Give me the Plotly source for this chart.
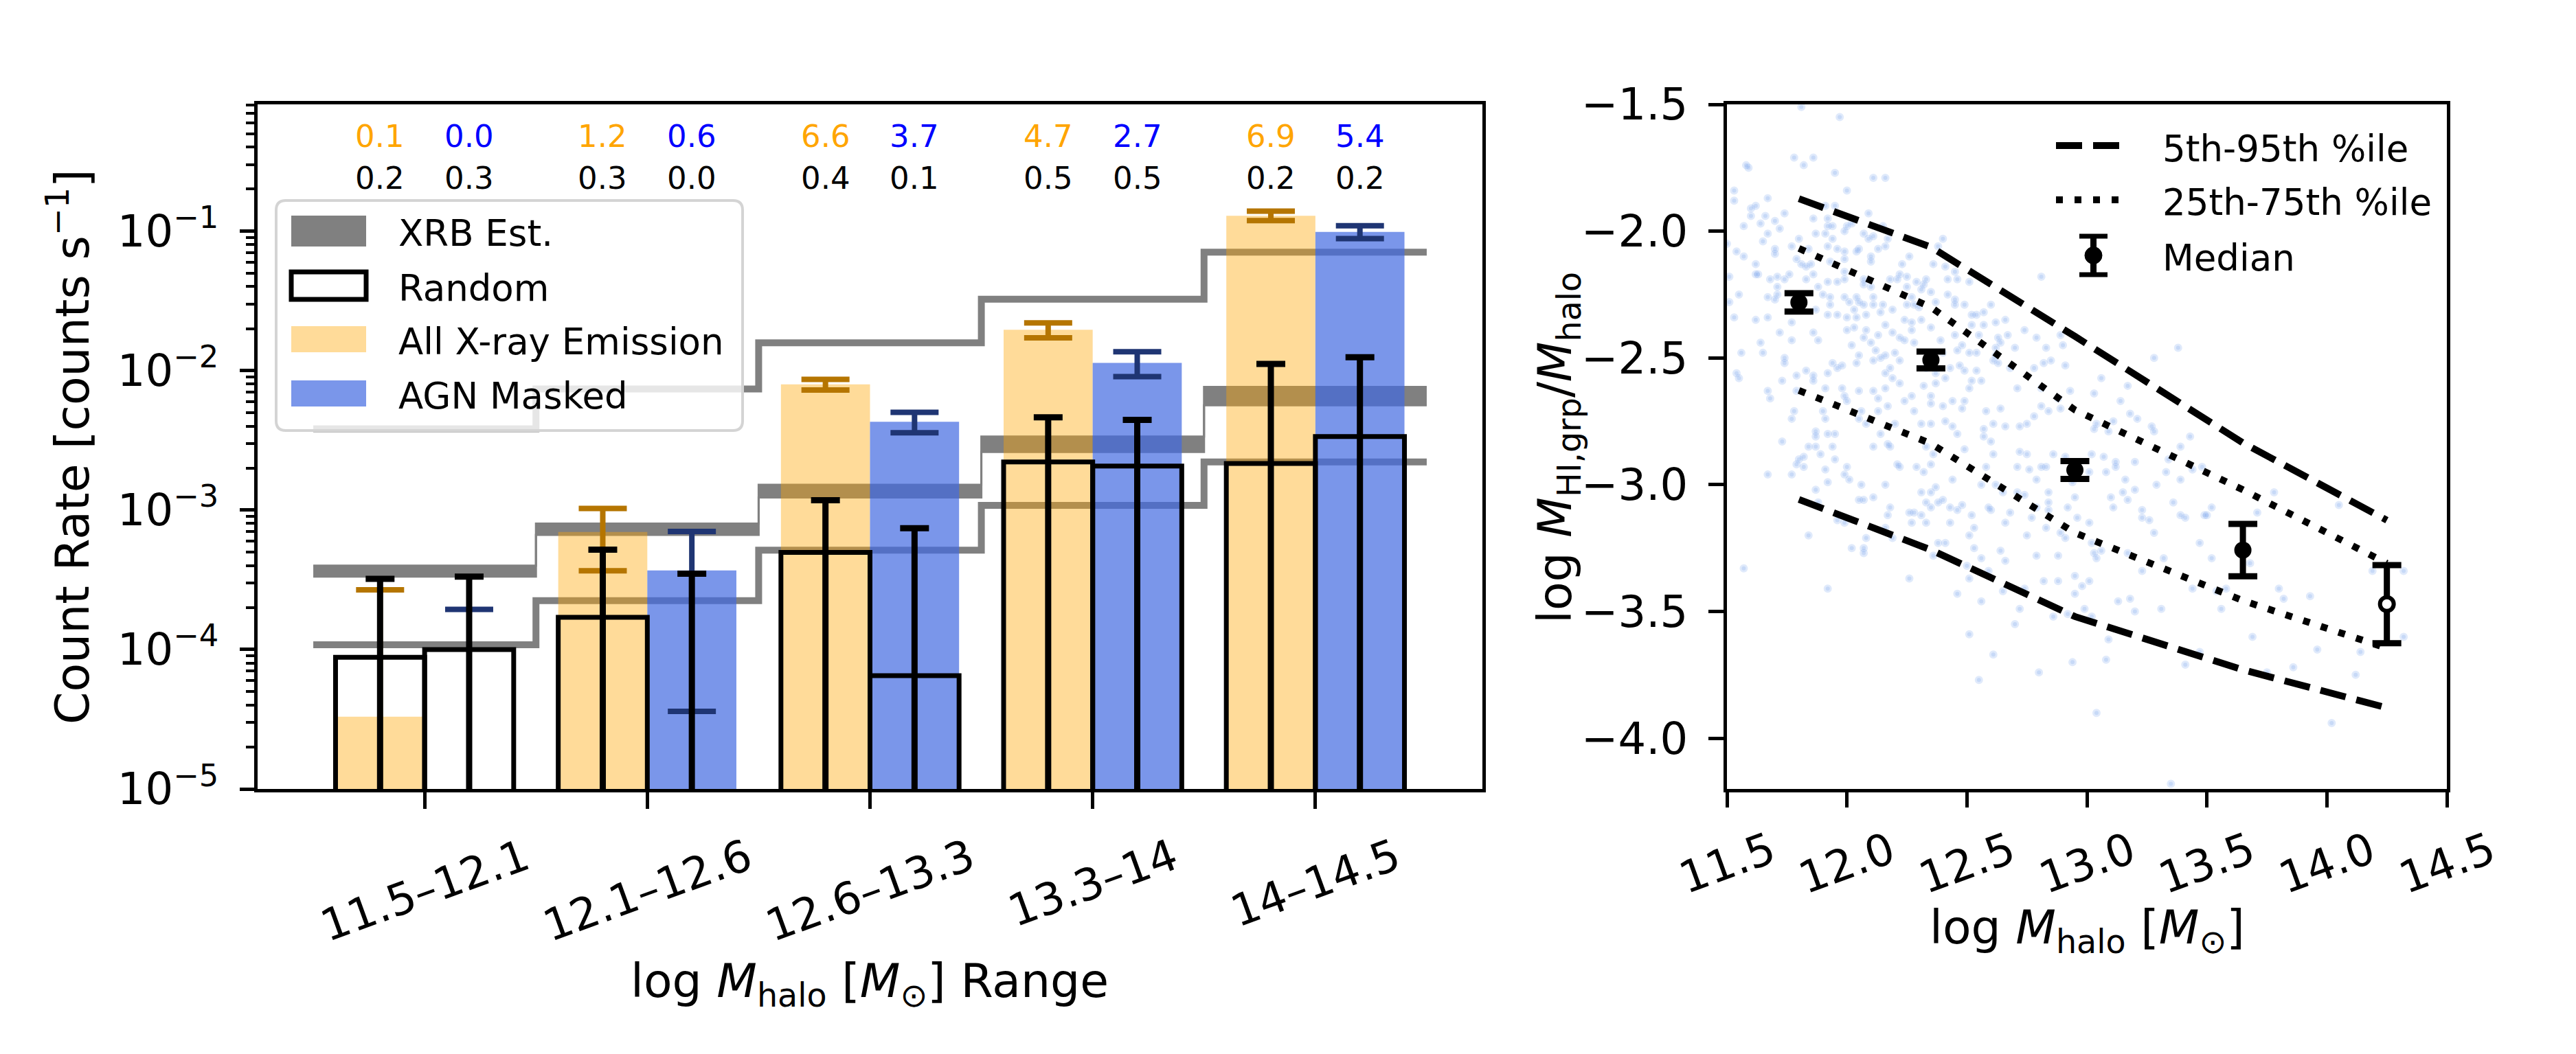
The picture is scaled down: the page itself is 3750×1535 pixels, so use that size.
import numpy as np
import plotly.graph_objects as go

# ---------------- left panel: stacked X-ray count rates ----------------
mass_bins = ["11.5–12.1", "12.1–12.6", "12.6–13.3", "13.3–14", "14–14.5"]

all_rate = [3.3e-5, 6.97e-4, 7.96e-3, 1.96e-2, 1.29e-1]
all_err = [2.35e-4, 3.3e-4, 7.0e-4, 2.4e-3, 1.0e-2]
agn_rate = [5e-6, 3.69e-4, 4.30e-3, 1.135e-2, 9.88e-2]
agn_err = [1.89e-4, 3.33e-4, 7.2e-4, 2.3e-3, 1.05e-2]

rand_all = [8.8e-5, 1.7e-4, 4.97e-4, 2.21e-3, 2.16e-3]
rand_all_err = [2.33e-4, 3.5e-4, 6.8e-4, 2.42e-3, 9.0e-3]
rand_agn = [1.0e-4, 5e-6, 6.5e-5, 2.07e-3, 3.37e-3]
rand_agn_err = [2.33e-4, 3.45e-4, 6.75e-4, 2.36e-3, 9.1e-3]

# XRB estimate band and its full range
xrb_lo = [3.33e-4, 6.64e-4, 1.23e-3, 2.61e-3, 5.64e-3]
xrb_hi = [3.99e-4, 8.0e-4, 1.52e-3, 3.37e-3, 7.64e-3]
xrb_min = [1.08e-4, 2.24e-4, 5.15e-4, 1.08e-3, 2.21e-3]
xrb_max = [3.82e-3, 7.38e-3, 1.58e-2, 3.25e-2, 7.07e-2]

# numbers printed above the bars
sig_all = [0.1, 1.2, 6.6, 4.7, 6.9]
sig_agn = [0.0, 0.6, 3.7, 2.7, 5.4]
sig_rand_all = [0.2, 0.3, 0.4, 0.5, 0.2]
sig_rand_agn = [0.3, 0.0, 0.1, 0.5, 0.2]
sig_rows = [0.48, 0.24]

# ---------------- right panel: HI fraction vs halo mass ----------------
bin_mass = [11.80, 12.35, 12.95, 13.65, 14.25]
p05 = [-3.058, -3.257, -3.52, -3.73, -3.88]
p25 = [-2.628, -2.838, -3.19, -3.457, -3.645]
p75 = [-2.068, -2.30, -2.705, -3.02, -3.31]
p95 = [-1.872, -2.063, -2.415, -2.835, -3.14]
med = [-2.281, -2.508, -2.942, -3.258, -3.471]
med_err = [0.036, 0.033, 0.035, 0.103, 0.154]
med_open = [False, False, False, False, True]
mhalo_ticks = [11.5, 12.0, 12.5, 13.0, 13.5, 14.0, 14.5]
ratio_ticks = [-4.0, -3.5, -3.0, -2.5, -2.0, -1.5]

# individual groups (log Mhalo, log MHI/Mhalo)
groups = [
    (11.81, -1.51), (11.97, -1.55), (11.58, -1.74), (11.59, -1.75), (11.78, -1.71),
    (11.86, -1.71), (11.82, -1.74), (11.95, -1.77), (12.11, -1.79), (12.16, -1.79),
    (11.53, -1.84), (11.53, -1.88), (11.67, -1.87), (12.00, -1.84), (11.60, -1.91),
    (11.62, -1.90), (11.60, -1.94), (11.74, -1.93), (11.66, -1.94), (11.64, -1.97),
    (11.57, -1.98), (11.70, -1.96), (11.72, -1.99), (11.67, -2.01), (11.86, -1.95),
    (11.91, -1.90), (11.95, -1.90), (11.92, -1.95), (11.92, -1.98), (11.94, -1.98),
    (11.87, -2.01), (11.91, -2.01), (11.99, -2.00), (12.00, -1.98), (12.02, -1.97),
    (12.09, -1.93), (12.15, -1.98), (12.07, -2.01), (12.09, -2.03), (12.11, -2.02),
    (12.17, -2.03), (11.94, -2.03), (11.92, -2.06), (11.96, -2.07), (11.99, -2.08),
    (11.99, -2.11), (11.80, -2.03), (11.77, -2.06), (11.84, -2.07), (11.65, -2.04),
    (11.70, -2.07), (11.70, -2.09), (11.50, -2.05), (11.54, -2.08), (11.57, -2.10),
    (11.62, -2.13), (11.62, -2.17), (11.63, -2.17), (11.51, -2.18), (11.68, -2.19),
    (11.71, -2.18), (11.74, -2.19), (11.76, -2.17), (11.79, -2.11), (11.81, -2.13),
    (11.83, -2.14), (11.85, -2.13), (11.86, -2.17), (11.83, -2.19), (11.88, -2.22),
    (11.90, -2.25), (11.93, -2.26), (11.93, -2.12), (11.92, -2.20), (11.96, -2.20),
    (11.99, -2.19), (11.99, -2.16), (12.04, -2.08), (12.05, -2.07), (12.10, -2.10),
    (12.10, -2.12), (12.13, -2.07), (12.16, -2.06), (12.26, -2.10), (12.23, -2.13),
    (12.22, -2.17), (12.25, -2.18), (12.18, -2.19), (12.21, -2.19), (12.07, -2.19),
    (12.07, -2.21), (12.10, -2.22), (12.29, -2.20), (12.32, -2.21), (12.33, -2.19),
    (12.31, -2.23), (12.35, -2.24), (12.25, -2.22), (12.27, -2.26), (12.25, -2.29),
    (12.28, -2.29), (12.30, -2.30), (12.36, -2.13), (12.41, -2.14), (12.45, -2.16),
    (12.46, -2.19), (12.42, -2.19), (12.40, -2.03), (12.38, -2.06), (12.51, -2.20),
    (12.81, -2.18), (12.42, -2.25), (12.45, -2.27), (12.45, -2.29), (12.37, -2.28),
    (12.49, -2.29), (12.60, -2.29), (12.54, -2.33), (12.52, -2.33), (12.57, -2.32),
    (12.57, -2.37), (12.52, -2.37), (12.62, -2.36), (12.66, -2.35), (12.45, -2.41),
    (12.46, -2.47), (12.48, -2.45), (12.51, -2.48), (12.54, -2.48), (12.55, -2.41),
    (12.63, -2.42), (12.64, -2.44), (12.67, -2.41), (12.70, -2.46), (12.74, -2.39),
    (12.79, -2.42), (12.83, -2.46), (12.89, -2.41), (12.90, -2.45), (12.62, -2.46),
    (12.62, -2.49), (12.61, -2.51), (12.63, -2.52), (12.68, -2.54), (12.71, -2.62),
    (12.78, -2.54), (12.82, -2.52), (12.85, -2.51), (12.91, -2.53), (12.93, -2.63),
    (12.81, -2.62), (12.88, -2.66), (12.89, -2.70), (12.81, -2.69), (12.84, -2.71),
    (12.78, -2.73), (12.75, -2.76), (12.72, -2.77), (12.66, -2.77), (12.61, -2.76),
    (12.64, -2.70), (12.58, -2.71), (12.57, -2.78), (12.57, -2.81), (12.60, -2.83),
    (12.51, -2.62), (12.49, -2.67), (12.48, -2.70), (12.52, -2.59), (12.56, -2.59),
    (12.54, -2.55), (12.49, -2.55), (12.47, -2.53), (12.43, -2.54), (12.41, -2.58),
    (12.40, -2.48), (12.44, -2.67), (12.40, -2.69), (12.35, -2.68), (12.35, -2.65),
    (12.32, -2.61), (12.37, -2.60), (12.37, -2.56), (12.33, -2.54), (12.41, -2.75),
    (12.44, -2.77), (12.46, -2.80), (12.35, -2.76), (12.31, -2.76), (12.28, -2.71),
    (12.27, -2.65), (12.24, -2.67), (12.22, -2.60), (12.22, -2.51), (12.20, -2.48),
    (12.18, -2.54), (12.19, -2.58), (12.16, -2.62), (12.16, -2.56), (12.14, -2.50),
    (12.11, -2.51), (12.12, -2.47), (12.10, -2.44), (12.16, -2.49), (12.05, -2.49),
    (12.02, -2.45), (12.04, -2.52), (11.94, -2.52), (11.96, -2.54), (11.98, -2.53),
    (11.92, -2.56), (11.86, -2.57), (11.86, -2.59), (11.83, -2.55), (11.79, -2.57),
    (11.73, -2.59), (11.74, -2.50), (11.74, -2.52), (11.54, -2.56), (11.55, -2.58),
    (11.56, -2.48), (11.65, -2.48), (11.64, -2.44), (11.67, -2.34), (11.53, -2.34),
    (11.62, -2.35), (11.77, -2.36), (11.72, -2.40), (11.77, -2.43), (11.86, -2.40),
    (11.88, -2.43), (12.00, -2.39), (12.03, -2.38), (12.07, -2.42), (12.08, -2.39),
    (12.13, -2.41), (12.16, -2.37), (12.19, -2.40), (12.22, -2.42), (12.24, -2.43),
    (12.28, -2.44), (12.27, -2.39), (12.27, -2.36), (12.24, -2.35), (12.31, -2.35),
    (12.35, -2.38), (12.39, -2.43), (11.93, -2.29), (11.99, -2.26), (12.01, -2.28),
    (12.04, -2.26), (12.03, -2.31), (12.07, -2.29), (12.11, -2.26), (12.11, -2.29),
    (12.14, -2.32), (12.15, -2.29), (12.19, -2.31), (12.08, -2.33), (12.04, -2.34),
    (12.00, -2.34), (11.96, -2.33), (11.92, -2.33), (11.87, -2.31), (12.05, -2.28),
    (11.98, -2.62), (11.99, -2.65), (12.00, -2.67), (11.91, -2.62), (11.90, -2.71),
    (11.91, -2.74), (12.05, -2.63), (12.11, -2.63), (12.13, -2.66), (12.13, -2.71),
    (12.06, -2.71), (12.05, -2.74), (12.08, -2.76), (12.17, -2.69), (12.20, -2.76),
    (12.14, -2.80), (12.17, -2.84), (11.87, -2.79), (11.87, -2.81), (11.92, -2.80),
    (11.95, -2.80), (11.78, -2.71), (11.77, -2.74), (11.67, -2.63), (11.68, -2.66),
    (11.73, -2.83), (11.79, -2.63), (11.51, -2.28), (11.55, -2.25), (11.67, -2.26),
    (11.70, -2.27), (11.71, -2.22), (11.71, -2.25),
    (11.67, -2.96), (11.77, -2.96), (11.79, -2.92), (11.80, -2.90), (11.82, -2.89),
    (11.82, -2.93), (11.84, -2.85), (11.87, -2.85), (11.89, -2.88), (11.94, -2.85),
    (11.95, -2.90), (11.91, -2.94), (11.92, -2.99), (11.99, -2.96), (12.00, -2.93),
    (12.01, -2.98), (12.06, -3.00), (11.87, -3.02), (11.88, -3.07), (12.05, -3.06),
    (12.07, -3.06), (12.11, -3.05), (12.11, -2.85), (12.18, -2.85), (12.16, -3.00),
    (12.21, -2.92), (12.22, -2.93), (12.29, -2.93), (12.32, -2.95), (12.35, -2.92),
    (12.33, -2.85), (12.36, -2.88), (12.31, -3.03), (12.35, -3.03), (12.37, -3.01),
    (12.33, -3.07), (12.35, -3.09), (12.38, -3.07), (12.40, -3.06), (12.43, -3.09),
    (12.46, -3.10), (12.48, -3.08), (12.18, -3.09), (12.17, -3.12), (12.26, -3.11),
    (12.28, -3.11), (12.31, -3.12), (12.33, -3.15), (12.27, -3.15), (12.43, -3.15),
    (12.44, -2.98), (12.49, -2.86), (12.52, -3.12), (12.53, -3.17), (12.51, -3.20),
    (12.53, -3.25), (12.56, -3.29), (12.59, -3.09), (12.60, -3.10), (12.58, -2.93),
    (12.61, -2.88), (12.56, -3.00), (12.62, -3.00), (12.65, -3.03), (12.68, -3.11),
    (12.66, -3.15), (12.71, -2.93), (12.76, -2.94), (12.79, -2.98), (12.81, -2.93),
    (12.83, -2.93), (12.72, -2.87), (12.75, -2.88), (12.71, -3.03), (12.74, -3.04),
    (12.79, -3.09), (12.84, -3.07), (12.84, -3.10), (12.84, -3.03), (12.77, -3.13),
    (12.83, -3.17), (12.75, -3.20), (12.64, -3.26), (12.66, -3.30), (12.79, -3.28),
    (12.88, -3.28), (12.89, -3.19), (12.91, -3.21), (12.92, -3.09), (12.96, -3.13),
    (12.95, -3.05), (12.86, -2.88), (12.91, -2.89), (12.94, -2.99), (12.50, -3.32),
    (12.59, -3.34), (12.51, -3.37), (12.65, -3.42), (12.74, -3.41), (12.82, -3.38),
    (12.88, -3.38), (12.95, -3.36), (12.98, -3.40), (12.95, -3.43), (12.99, -3.49),
    (12.92, -3.51), (12.86, -3.52), (12.72, -3.49), (12.56, -3.46), (12.46, -3.43),
    (12.70, -3.55), (12.51, -3.59), (12.61, -3.67), (12.94, -3.70), (12.80, -3.74),
    (12.55, -3.77), (12.38, -3.23), (12.41, -3.23), (12.36, -3.28), (12.19, -3.21),
    (12.16, -3.17), (12.08, -3.21), (12.02, -3.25), (12.07, -3.25), (12.07, -3.27),
    (11.96, -3.14), (11.99, -3.15), (11.84, -3.20), (11.57, -3.33), (11.92, -3.41),
    (12.26, -3.37),
    (13.38, -2.46), (13.28, -2.50), (13.06, -2.58), (13.17, -2.61), (13.03, -2.64),
    (13.14, -2.67), (13.18, -2.72), (13.21, -2.74), (13.11, -2.75), (13.04, -2.76),
    (13.03, -2.78), (13.09, -2.79), (13.27, -2.77), (13.28, -2.79), (13.43, -2.81),
    (13.02, -2.88), (13.07, -2.89), (13.12, -2.91), (13.12, -2.93), (13.08, -2.95),
    (13.01, -2.95), (13.20, -2.91), (13.34, -2.90), (13.39, -2.85), (13.33, -2.95),
    (13.39, -2.98), (13.16, -2.98), (13.29, -3.00), (13.15, -3.03), (13.20, -3.02),
    (13.10, -3.05), (13.17, -3.06), (13.11, -3.09), (13.23, -3.10), (13.23, -3.13),
    (13.26, -3.14), (13.36, -3.07), (13.39, -3.12), (13.41, -3.13), (13.49, -3.12),
    (13.50, -3.12), (13.52, -3.09), (13.44, -2.94), (13.48, -2.93), (13.28, -3.19),
    (13.01, -3.15), (13.47, -3.23), (13.52, -3.29), (13.71, -3.11), (13.78, -3.03),
    (14.05, -3.08), (13.02, -3.23), (13.03, -3.27), (13.06, -3.26), (13.04, -3.29),
    (13.17, -3.27), (13.32, -3.29), (13.23, -3.34), (13.01, -3.38), (13.68, -3.31),
    (13.44, -3.41), (13.54, -3.42), (13.58, -3.41), (13.56, -3.49), (13.18, -3.45),
    (13.13, -3.46), (13.20, -3.50), (13.31, -3.49), (13.02, -3.52), (13.80, -3.41),
    (13.82, -3.45), (13.93, -3.44), (14.19, -3.34), (14.32, -3.60), (13.96, -3.65),
    (14.14, -3.66), (13.69, -3.60), (13.09, -3.61), (13.08, -3.69), (13.47, -3.66),
    (13.41, -3.71), (13.75, -3.74), (13.86, -3.72), (13.04, -3.90), (14.02, -3.94),
    (13.35, -4.18), (14.32, -3.34), (14.12, -3.75),
]

# ---------------- geometry helpers (figure pixels -> paper) ----------------
W, H = 3750, 1535
FONT = "DejaVu Sans"


def fx(p):
    return p / W


def fy(p):
    return 1 - p / H


xpos = np.arange(len(mass_bins))
edges = np.arange(len(mass_bins) + 1) - 0.5


def step(v):
    return list(v) + [v[-1]]


fig = go.Figure()

# XRB band and range lines (drawn on the base axes, under the bars)
fig.add_trace(go.Scatter(x=edges, y=step(xrb_lo), mode="lines", line_shape="hv",
                         line=dict(color="#808080", width=3), xaxis="x", yaxis="y"))
fig.add_trace(go.Scatter(x=edges, y=step(xrb_hi), mode="lines", line_shape="hv",
                         line=dict(color="#808080", width=3), fill="tonexty",
                         fillcolor="#808080", xaxis="x", yaxis="y"))
for v in (xrb_min, xrb_max):
    fig.add_trace(go.Scatter(x=edges, y=step(v), mode="lines", line_shape="hv",
                             line=dict(color="#808080", width=10), xaxis="x", yaxis="y"))

# bars on an overlaid y axis so that they sit above the XRB lines
fig.add_trace(go.Bar(x=xpos - 0.2, y=all_rate, width=0.4,
                     marker=dict(color="rgba(255,165,0,0.4)", line=dict(width=0)),
                     error_y=dict(type="data", array=all_err, color="#B57500",
                                  thickness=8, width=35),
                     xaxis="x", yaxis="y3"))
fig.add_trace(go.Bar(x=xpos + 0.2, y=agn_rate, width=0.4,
                     marker=dict(color="rgba(65,105,225,0.7)", line=dict(width=0)),
                     error_y=dict(type="data", array=agn_err, color="#1F3573",
                                  thickness=8, width=35),
                     xaxis="x", yaxis="y3"))
for xs, ys, es in ((xpos - 0.2, rand_all, rand_all_err), (xpos + 0.2, rand_agn, rand_agn_err)):
    fig.add_trace(go.Bar(x=xs, y=ys, width=0.4,
                         marker=dict(color="rgba(0,0,0,0)", line=dict(color="black", width=7)),
                         error_y=dict(type="data", array=es, color="black",
                                      thickness=9, width=21),
                         xaxis="x", yaxis="y3"))

# right panel
gx, gy = zip(*groups)
fig.add_trace(go.Scatter(x=gx, y=gy, mode="markers",
                         marker=dict(size=6, color="rgba(100,149,237,0.2)",
                                     line=dict(width=6, color="rgba(100,149,237,0.2)")),
                         xaxis="x2", yaxis="y2"))
for lo, hi, dash in ((p05, p95, "38px,16px"), (p25, p75, "10px,17px")):
    for v in (lo, hi):
        fig.add_trace(go.Scatter(x=bin_mass, y=v, mode="lines",
                                 line=dict(color="black", width=10, dash=dash),
                                 xaxis="x2", yaxis="y2"))
closed = [i for i, o in enumerate(med_open) if not o]
opened = [i for i, o in enumerate(med_open) if o]
for idx, face, edge_w, size in ((closed, "black", 3, 22), (opened, "white", 6, 20)):
    fig.add_trace(go.Scatter(
        x=[bin_mass[i] for i in idx], y=[med[i] for i in idx], mode="markers",
        marker=dict(size=size, color=face, line=dict(color="black", width=edge_w)),
        error_y=dict(type="data", array=[med_err[i] for i in idx], color="black",
                     thickness=9, width=21),
        xaxis="x2", yaxis="y2"))

# ---------------- annotations ----------------
ann = []
for row, (top, bottom) in enumerate(((sig_all, sig_agn), (sig_rand_all, sig_rand_agn))):
    colors = ("#FFA500", "#0000FF") if row == 0 else ("black", "black")
    for i in range(len(mass_bins)):
        for dx, vals, col in ((-0.2, top, colors[0]), (0.2, bottom, colors[1])):
            ann.append(dict(x=xpos[i] + dx, y=np.log10(sig_rows[row]), xref="x", yref="y",
                            text=f"{vals[i]:.1f}", showarrow=False,
                            font=dict(size=45, color=col), xanchor="center", yanchor="middle"))

for i, lab in enumerate(mass_bins):
    ann.append(dict(x=xpos[i], y=fy(1205), xref="x", yref="paper", text=lab,
                    showarrow=False, textangle=-20, font=dict(size=64),
                    xanchor="center", yanchor="top"))
for t in mhalo_ticks:
    ann.append(dict(x=t, y=fy(1195), xref="x2", yref="paper", text=f"{t:.1f}",
                    showarrow=False, textangle=-20, font=dict(size=64),
                    xanchor="center", yanchor="top"))

title_ann = [
    (1266, 1433, 0, "log <i>M</i><sub>halo</sub> [<i>M</i><sub>⊙</sub>] Range"),
    (3038, 1355, 0, "log <i>M</i><sub>halo</sub> [<i>M</i><sub>⊙</sub>]"),
    (100, 651, -90, "Count Rate [counts s<sup>−1</sup>]"),
    (2268, 652, -90, "log <i>M</i><sub>HI,grp</sub>/<i>M</i><sub>halo</sub>"),
]
for tx, ty, ang, txt in title_ann:
    ann.append(dict(x=fx(tx), y=fy(ty), xref="paper", yref="paper", showarrow=False,
                    textangle=ang, text=txt, font=dict(size=68),
                    xanchor="center", yanchor="middle"))

# legend (left)
shapes = []


def rounded(x0, y0, x1, y1, r):
    pts = [("M", x0 + r, y0), ("L", x1 - r, y0), ("Q", x1, y0, x1, y0 + r),
           ("L", x1, y1 - r), ("Q", x1, y1, x1 - r, y1), ("L", x0 + r, y1),
           ("Q", x0, y1, x0, y1 - r), ("L", x0, y0 + r), ("Q", x0, y0, x0 + r, y0)]
    out = ""
    for p in pts:
        c = p[1:]
        out += p[0] + " ".join(f"{fx(c[k]):.5f},{fy(c[k + 1]):.5f}" for k in range(0, len(c), 2)) + " "
    return out + "Z"


shapes.append(dict(type="path", xref="paper", yref="paper", path=rounded(402, 292, 1081, 627, 14),
                   fillcolor="rgba(255,255,255,0.8)", line=dict(color="#d4d4d4", width=4),
                   layer="above"))
leg_items = [("XRB Est.", "#808080", None, 314, 359),
             ("Random", "white", "black", 396, 436),
             ("All X-ray Emission", "#FFDB99", None, 475, 513),
             ("AGN Masked", "#7A96EA", None, 554, 592)]
for name, fill, edge, y0, y1 in leg_items:
    shapes.append(dict(type="rect", xref="paper", yref="paper",
                       x0=fx(424), x1=fx(533), y0=fy(y1), y1=fy(y0), fillcolor=fill,
                       line=dict(color=edge or fill, width=7 if edge else 0), layer="above"))
    ann.append(dict(x=fx(578), y=fy((y0 + y1) / 2 + 3), xref="paper", yref="paper", text=name,
                    showarrow=False, xanchor="left", yanchor="middle", font=dict(size=53)))

# legend (right)
for yy, dash, name in ((212, "38px,16px", "5th-95th %ile"), (291, "10px,17px", "25th-75th %ile")):
    shapes.append(dict(type="line", xref="paper", yref="paper", x0=fx(2993), x1=fx(3088),
                       y0=fy(yy), y1=fy(yy), line=dict(color="black", width=10, dash=dash)))
    ann.append(dict(x=fx(3146), y=fy(yy + 4), xref="paper", yref="paper", text=name,
                    showarrow=False, xanchor="left", yanchor="middle", font=dict(size=53)))
shapes += [
    dict(type="line", xref="paper", yref="paper", x0=fx(3047.5), x1=fx(3047.5),
         y0=fy(344), y1=fy(400), line=dict(color="black", width=9)),
    dict(type="line", xref="paper", yref="paper", x0=fx(3027), x1=fx(3068),
         y0=fy(344), y1=fy(344), line=dict(color="black", width=7)),
    dict(type="line", xref="paper", yref="paper", x0=fx(3027), x1=fx(3068),
         y0=fy(400), y1=fy(400), line=dict(color="black", width=7)),
    dict(type="circle", xref="paper", yref="paper", x0=fx(3035), x1=fx(3060),
         y0=fy(384.5), y1=fy(359.5), fillcolor="black", line=dict(color="black", width=1)),
]
ann.append(dict(x=fx(3146), y=fy(375), xref="paper", yref="paper", text="Median",
                showarrow=False, xanchor="left", yanchor="middle", font=dict(size=53)))

# ---------------- axes ----------------
ydom = [fy(1149), fy(152)]
decades = [-5, -4, -3, -2, -1]
minor_vals = [m * 10.0 ** k for k in decades for m in range(2, 10)]
axis_common = dict(showline=True, linecolor="black", linewidth=5, mirror=True,
                   showgrid=False, zeroline=False, ticks="outside", tickcolor="black",
                   tickwidth=5, automargin=False)

fig.update_layout(
    template="none",
    width=W, height=H, margin=dict(l=0, r=0, t=0, b=0, pad=0, autoexpand=False),
    paper_bgcolor="white", plot_bgcolor="white", showlegend=False,
    font=dict(family=FONT, color="black", size=64),
    barmode="overlay",
    xaxis=dict(domain=[fx(375), fx(2158)], range=[-0.75, 4.75], tickvals=list(xpos),
               showticklabels=False, ticklen=24, anchor="y", **axis_common),
    yaxis=dict(domain=ydom, type="log", range=[-5, -0.091],
               tickvals=[10.0 ** k for k in decades],
               ticktext=[f"10<sup>−{-k}</sup>" for k in decades],
               ticklen=21, ticklabelstandoff=18, tickfont=dict(size=64), anchor="x",
               minor=dict(ticks="outside", ticklen=12, tickwidth=3.5, tickcolor="black",
                          tickmode="array", tickvals=minor_vals, showgrid=False),
               **axis_common),
    yaxis3=dict(domain=ydom, type="log", range=[-5, -0.091], overlaying="y",
                anchor="x", visible=False, automargin=False),
    xaxis2=dict(domain=[fx(2514), fx(3562)], range=[11.5, 14.5], tickvals=mhalo_ticks,
                showticklabels=False, ticklen=22, anchor="y2", **axis_common),
    yaxis2=dict(domain=ydom, range=[-4.2, -1.5], tickvals=ratio_ticks, tickformat=".1f",
                ticklen=22, ticklabelstandoff=17, tickfont=dict(size=64), anchor="x2",
                **axis_common),
    annotations=ann, shapes=shapes,
)

fig.write_html("out.html", config={"displayModeBar": False},
               post_script="document.body.style.margin='0px';document.body.style.overflow='hidden';")
